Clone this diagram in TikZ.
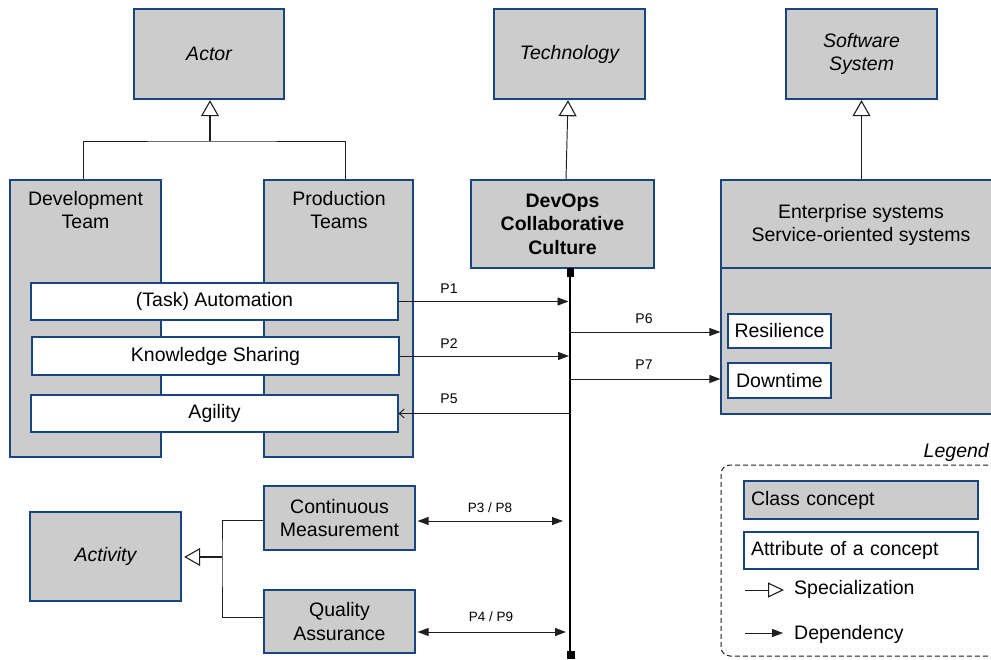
\documentclass[tikz,border=0pt]{standalone}
\usepackage{fontspec}
\setmainfont{Liberation Sans}
\usetikzlibrary{arrows.meta,calc}
\definecolor{boxgray}{RGB}{204,204,204}
\definecolor{boxblue}{RGB}{26,68,128}
\definecolor{linegray}{RGB}{30,30,30}
\begin{document}
\begin{tikzpicture}[x=1pt,y=-1pt,
  base/.style={draw=boxblue, line width=1.2pt, inner sep=0pt, font=\fontsize{19.5}{23.5}\selectfont, align=center},
  cls/.style={base, fill=boxgray},
  abscls/.style={cls, line width=2.4pt, font=\fontsize{19.5}{23.5}\selectfont\itshape},
  attr/.style={base, fill=white},
  txt/.style={inner sep=0pt, font=\fontsize{19.5}{23.5}\selectfont, align=center},
  conn/.style={line width=0.95pt, draw=linegray},
  dep/.style={conn, -{Triangle[length=11pt,width=8pt]}},
  bidep/.style={conn, {Triangle[length=11pt,width=8pt]}-{Triangle[length=11pt,width=8pt]}},
  spec/.style={conn, -{Triangle[open, fill=white, length=16pt, width=18pt, line width=1.1pt]}},
  plabel/.style={inner sep=0pt, font=\fontsize{14}{16}\selectfont}
]
\useasboundingbox (0,0) rectangle (991,660);
\clip (0,0) rectangle (991,660);

% abstract classes
\node[abscls, minimum width=150pt, minimum height=90pt] (actor) at (209,54) {Actor};
\node[abscls, minimum width=151pt, minimum height=90pt] (tech) at (569.5,54) {Technology};
\node[abscls, minimum width=151pt, minimum height=90pt] (soft) at (861.5,54) {Software\\System};

% teams
\node[cls, minimum width=151pt, minimum height=277pt] (dev) at (85.5,318.5) {};
\node[txt] (devlbl) at (85.5,210) {Development\\Team};
\node[cls, minimum width=149pt, minimum height=277pt] (prod) at (338.5,318.5) {};
\node[txt] (prodlbl) at (339,210) {Production\\Teams};

% DevOps
\node[cls, minimum width=183pt, minimum height=88pt, font=\fontsize{19.5}{23.5}\selectfont\bfseries] (devops) at (562.5,224) {DevOps\\Collaborative\\Culture};

% Enterprise systems
\node[cls, minimum width=280pt, minimum height=234pt] (ent) at (861,297) {};
\coordinate (sep) at (0,268);
\draw[boxblue, line width=1.2pt] (ent.west |- sep) -- (ent.east |- sep);
\node[txt] (entlbl) at (861,225) {Enterprise systems\\Service-oriented systems};
\node[attr, minimum width=103pt, minimum height=34pt] (resil) at (779.5,331) {Resilience};
\node[attr, minimum width=103pt, minimum height=35pt] (down) at (779.5,380.5) {Downtime};

% attributes
\node[attr, minimum width=367pt, minimum height=37pt] (auto) at (214.5,301.5) {(Task) Automation};
\node[attr, minimum width=367pt, minimum height=38pt] (know) at (215.5,356) {Knowledge Sharing};
\node[attr, minimum width=367pt, minimum height=37pt] (agil) at (214.5,413.5) {Agility};

% activities
\node[abscls, minimum width=151pt, minimum height=89pt] (act) at (105.5,556.5) {Activity};
\node[cls, minimum width=151pt, minimum height=64pt] (cm) at (339.5,518) {Continuous\\Measurement};
\node[cls, minimum width=151pt, minimum height=63pt] (qa) at (339.5,621.5) {Quality\\Assurance};

% generalisation to Actor
\coordinate (aj) at (210,141);
\draw[conn] ($(dev.north)+(-2.5,0)$) |- (aj) -| ($(prod.north)+(6.5,0)$);
\draw[spec, line width=2pt] (aj) -- (aj |- actor.south);
% generalisation to Technology and Software System
\draw[spec] ($(devops.north)+(3.5,0)$) -- ($(tech.south)+(-1.5,0)$);
\draw[spec] (soft.south |- ent.north) -- (soft.south);
% generalisation to Activity
\coordinate (brk) at (222,557);
\draw[conn] ($(cm.west)+(0,2)$) -| (brk) |- ($(qa.west)+(0,-4.5)$);
\draw[spec, line width=2pt, shorten >=2pt] (brk) -- (act.east |- brk);

% bus
\coordinate (busT) at (570,268);
\coordinate (busB) at (570,655);
\draw[line width=1.3pt, black] (busT) -- (busB);
\fill[black] ($(busT)+(-3.5,0)$) rectangle ++(7,9);
\fill[black] ($(busB)+(-3.5,-4)$) rectangle ++(8,8);

% dependencies
\draw[dep, shorten >=1.5pt] (auto.east) -- (auto.east -| busT);
\node[plabel] (p1) at (449,289) {P1};
\draw[dep, shorten >=1pt] (know.east) -- (know.east -| busT);
\node[plabel] (p2) at (449,344) {P2};
\draw[conn, -{Straight Barb[length=5pt,width=9pt]}] (agil.east -| busT) -- (agil.east);
\node[plabel] (p5) at (449,399) {P5};
\coordinate (b6) at (570,332);
\draw[dep] (b6) -- (b6 -| ent.west);
\node[plabel] (p6) at (644,319) {P6};
\coordinate (b7) at (570,379);
\draw[dep] (b7) -- (b7 -| ent.west);
\node[plabel] (p7) at (644,365) {P7};
\coordinate (b38) at (570,521);
\draw[bidep, shorten <=2pt, shorten >=7pt] (b38 -| cm.east) -- (b38);
\node[plabel, font=\fontsize{13.5}{15}\selectfont] (p38) at (490,508) {P3 / P8};
\coordinate (b49) at (570,632);
\draw[bidep, shorten <=2pt, shorten >=4pt] (b49 -| qa.east) -- (b49);
\node[plabel, font=\fontsize{13.5}{15}\selectfont] (p49) at (491,617) {P4 / P9};

% legend
\node[txt, anchor=east, font=\fontsize{19.5}{23.5}\selectfont\itshape] (leglbl) at (989,452) {Legend};
\node[draw=linegray, line width=1pt, dash pattern=on 5pt off 3pt, rounded corners=9pt, minimum width=284pt, minimum height=191pt, inner sep=0pt] (legend) at (863,560.5) {};
\node[cls, minimum width=234pt, minimum height=38pt, text width=220pt, align=left] (lcls) at (861,500) {Class concept};
\node[attr, minimum width=234pt, minimum height=37pt, text width=220pt, align=left] (lattr) at (861,550.5) {Attribute of a concept};
\coordinate (ls1) at (745,590);
\coordinate (ls2) at (784,590);
\draw[conn, -{Triangle[open, fill=white, length=16pt, width=15pt, line width=1.1pt]}] (ls1) -- (ls2);
\node[txt, anchor=west] (lspec) at (794,589) {Specialization};
\coordinate (ld1) at (745,633);
\coordinate (ld2) at (783,633);
\draw[dep] (ld1) -- (ld2);
\node[txt, anchor=west] (ldep) at (794,634) {Dependency};
\end{tikzpicture}
\end{document}
